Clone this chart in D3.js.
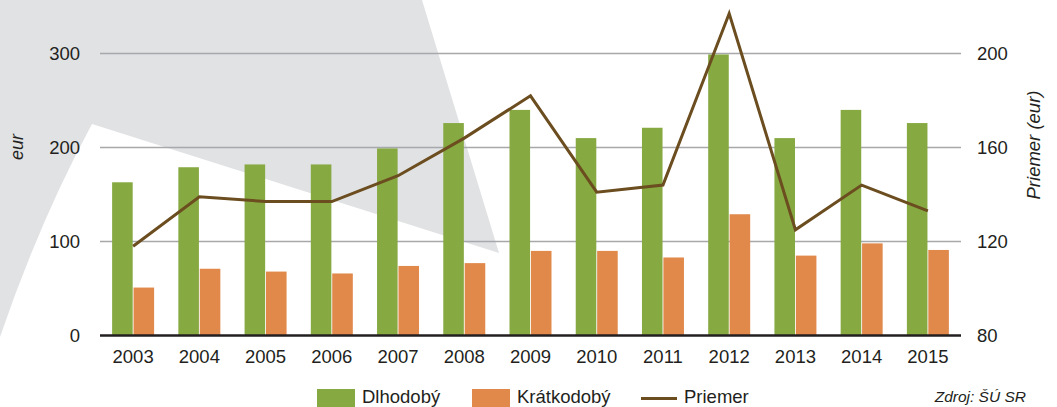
<!DOCTYPE html>
<html>
<head>
<meta charset="utf-8">
<script src="https://d3js.org/d3.v7.min.js"></script>
<style>
    body { margin: 0; background: #fff; }
    svg text { font-family: "Liberation Sans", Arial, sans-serif; fill: #231f20; }
</style>
</head>
<body>
<svg width="1057" height="407"></svg>
<script>
    // data
    let years = ['2003','2004','2005','2006','2007','2008','2009','2010','2011','2012','2013','2014','2015']
    let dlhodoby = [163, 179, 182, 182, 199, 226, 240, 210, 221, 299, 210, 240, 226]
    let kratkodoby = [51, 71, 68, 66, 74, 77, 90, 90, 83, 129, 85, 98, 91]
    let priemer = [118, 139, 137, 137, 148, 164, 182, 141, 144, 217, 125, 144, 133]
    let leftTicks = [0, 100, 200, 300]
    let rightTicks = [80, 120, 160, 200]

    let svg = d3.select('svg')
    let margin = {left: 100, right: 961, top: 53.5, bottom: 335.5}
    let fs = '18.5px'

    // grey decorative background shape
    let bg = d3.path()
    bg.moveTo(0, 0)
    bg.lineTo(422, 0)
    bg.lineTo(499, 253)
    bg.lineTo(92, 124)
    bg.quadraticCurveTo(40, 220, 0, 337)
    bg.closePath()
    svg.append('path').attr('d', bg.toString()).attr('fill', '#e1e2e4')

    let x = d3.scaleBand().domain(years).range([margin.left, margin.right])
        .paddingInner(0.366).paddingOuter(0.183)
    let x1 = d3.scaleBand().domain(['d', 'k']).range([0, x.bandwidth()]).paddingInner(0.04)
    let yL = d3.scaleLinear().domain([0, 300]).range([margin.bottom, margin.top])
    let yR = d3.scaleLinear().domain([80, 200]).range([margin.bottom, margin.top])

    // gridlines
    svg.append('g')
        .selectAll('line')
        .data(leftTicks.filter(d => d > 0))
        .enter()
        .append('line')
        .attr('x1', margin.left).attr('x2', margin.right)
        .attr('y1', d => yL(d)).attr('y2', d => yL(d))
        .attr('stroke', '#a7a8aa').attr('stroke-width', 1.6)

    // left axis labels
    let gL = svg.append('g')
        .attr('transform', 'translate(' + (margin.left - 20) + ',0)')
        .call(d3.axisLeft(yL).tickValues(leftTicks).tickSize(0).tickPadding(0))
    gL.select('.domain').remove()
    gL.selectAll('text').style('font-size', fs).attr('fill', '#231f20')

    // right axis labels
    let gR = svg.append('g')
        .attr('transform', 'translate(' + (margin.right + 16) + ',0)')
        .call(d3.axisRight(yR).tickValues(rightTicks).tickSize(0).tickPadding(0))
    gR.select('.domain').remove()
    gR.selectAll('text').style('font-size', fs).attr('fill', '#231f20')

    // bars
    let groups = svg.append('g').selectAll('g')
        .data(years)
        .enter()
        .append('g')
        .attr('transform', d => 'translate(' + x(d) + ',0)')

    groups.append('rect')
        .attr('x', x1('d'))
        .attr('y', (d, i) => yL(dlhodoby[i]))
        .attr('width', x1.bandwidth())
        .attr('height', (d, i) => yL(0) - yL(dlhodoby[i]))
        .attr('fill', '#86a942')

    groups.append('rect')
        .attr('x', x1('k'))
        .attr('y', (d, i) => yL(kratkodoby[i]))
        .attr('width', x1.bandwidth())
        .attr('height', (d, i) => yL(0) - yL(kratkodoby[i]))
        .attr('fill', '#e0894a')

    // baseline
    svg.append('line')
        .attr('x1', margin.left).attr('x2', margin.right)
        .attr('y1', yL(0)).attr('y2', yL(0))
        .attr('stroke', '#231f20').attr('stroke-width', 2.5)

    // x axis labels
    let gX = svg.append('g')
        .attr('transform', 'translate(0,' + (yL(0) + 10) + ')')
        .call(d3.axisBottom(x).tickSize(0).tickPadding(4))
    gX.select('.domain').remove()
    gX.selectAll('text').style('font-size', fs).attr('fill', '#231f20')

    // average line
    let line = d3.line()
        .x((d, i) => x(years[i]) + x.bandwidth() / 2)
        .y(d => yR(d))
    svg.append('path')
        .datum(priemer)
        .attr('d', line)
        .attr('fill', 'none')
        .attr('stroke', '#6b4d1f')
        .attr('stroke-width', 3)

    // axis titles
    svg.append('text')
        .attr('transform', 'translate(23,147) rotate(-90)')
        .attr('text-anchor', 'middle')
        .style('font-size', '18px').style('font-style', 'italic')
        .text('eur')
    svg.append('text')
        .attr('transform', 'translate(1040,145) rotate(-90)')
        .attr('text-anchor', 'middle')
        .style('font-size', fs).style('font-style', 'italic')
        .text('Priemer (eur)')

    // legend
    let legend = svg.append('g')
    legend.append('rect').attr('x', 317).attr('y', 389).attr('width', 38).attr('height', 20).attr('fill', '#86a942')
    legend.append('text').attr('x', 362).attr('y', 402.5).style('font-size', fs).text('Dlhodobý')
    legend.append('rect').attr('x', 472).attr('y', 389).attr('width', 38).attr('height', 20).attr('fill', '#e0894a')
    legend.append('text').attr('x', 517).attr('y', 402.5).style('font-size', fs).text('Krátkodobý')
    legend.append('line').attr('x1', 641).attr('x2', 677).attr('y1', 398.5).attr('y2', 398.5)
        .attr('stroke', '#6b4d1f').attr('stroke-width', 3)
    legend.append('text').attr('x', 684).attr('y', 402.5).style('font-size', fs).text('Priemer')

    svg.append('text')
        .attr('x', 1026).attr('y', 401.5)
        .attr('text-anchor', 'end')
        .style('font-size', '15.5px').style('font-style', 'italic')
        .text('Zdroj: ŠÚ SR')
</script>
</body>
</html>
